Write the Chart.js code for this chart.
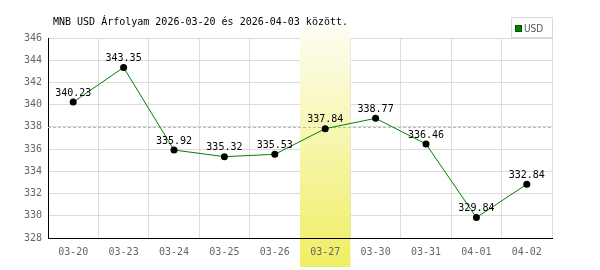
<!DOCTYPE html>
<html>
<head>
<meta charset="utf-8">
<script src="https://cdn.jsdelivr.net/npm/chart.js@4/dist/chart.umd.min.js"></script>
<style>
    html, body { margin: 0; padding: 0; background: #fff; }
    #box { width: 600px; height: 270px; }
</style>
</head>
<body>
<div id="box"><canvas id="chart_usd"></canvas></div>
<script>
// adatok
const datumok = ['03-20', '03-23', '03-24', '03-25', '03-26', '03-27', '03-30', '03-31', '04-01', '04-02'];
const arfolyamok = [340.23, 343.35, 335.92, 335.32, 335.53, 337.84, 338.77, 336.46, 329.84, 332.84];
const yTengely = [328, 346, 2]; // min, max, lepes
const referencia = [338];
const kiemeltNap = ['03-27'];
const cim = 'MNB USD Árfolyam 2026-03-20 és 2026-04-03 között.';
const jelmagyarazat = ['USD'];

// kiemelt oszlop + szaggatott vonal
const hatterPlugin = {
    id: 'hatter',
    beforeDatasetsDraw(chart) {
        const ctx = chart.ctx;
        const x = chart.scales.x;
        const y = chart.scales.y;
        const area = chart.chartArea;
        const lepes = x.getPixelForValue(1) - x.getPixelForValue(0);

        kiemeltNap.forEach(function (nap) {
            const kozep = x.getPixelForValue(datumok.indexOf(nap));
            const g = ctx.createLinearGradient(0, 27, 0, 267);
            g.addColorStop(0, '#fdfdf2');
            g.addColorStop(1, '#f0ee62');
            ctx.save();
            ctx.fillStyle = g;
            ctx.fillRect(kozep - lepes / 2, 27, lepes, 240);
            ctx.restore();
        });

        referencia.forEach(function (r) {
            const py = Math.round(y.getPixelForValue(r)) + 0.5;
            ctx.save();
            ctx.strokeStyle = '#a9c4a9';
            ctx.lineWidth = 1;
            ctx.setLineDash([3, 2]);
            ctx.beginPath();
            ctx.moveTo(area.left, py);
            ctx.lineTo(area.right, py);
            ctx.stroke();
            ctx.restore();
        });
    },
    afterDatasetsDraw(chart) {
        // ertekek a pontok folott
        const ctx = chart.ctx;
        const meta = chart.getDatasetMeta(0);
        ctx.save();
        ctx.font = '10px "DejaVu Sans Mono", monospace';
        ctx.fillStyle = '#000';
        ctx.textAlign = 'center';
        ctx.textBaseline = 'middle';
        meta.data.forEach(function (pont, i) {
            ctx.fillText(arfolyamok[i].toFixed(2), pont.x, pont.y - 9);
        });
        ctx.restore();
    },
    afterDraw(chart) {
        const ctx = chart.ctx;
        ctx.save();
        // cim
        ctx.font = '10px "DejaVu Sans Mono", monospace';
        ctx.fillStyle = '#000';
        ctx.textAlign = 'left';
        ctx.textBaseline = 'middle';
        ctx.fillText(cim, 53, 22);

        // jelmagyarazat
        ctx.fillStyle = '#fff';
        ctx.fillRect(511, 18, 41, 20);
        ctx.strokeStyle = '#d8d8d8';
        ctx.lineWidth = 1;
        ctx.strokeRect(511.5, 17.5, 41, 20);
        ctx.fillStyle = '#008000';
        ctx.fillRect(515, 25, 7, 7);
        ctx.strokeStyle = '#005500';
        ctx.strokeRect(515.5, 25.5, 6, 6);
        ctx.font = '10px "DejaVu Sans Condensed", "DejaVu Sans", sans-serif';
        ctx.fillStyle = '#555';
        ctx.fillText(jelmagyarazat[0], 524, 29);
        ctx.restore();
    }
};

const config_usd = {
    type: 'line',
    data: {
        labels: datumok,
        datasets: [{
            label: jelmagyarazat[0],
            data: arfolyamok,
            borderColor: '#008000',
            borderWidth: 1,
            backgroundColor: '#000',
            pointBackgroundColor: '#000',
            pointBorderWidth: 0,
            pointRadius: 3.5,
            tension: 0,
            fill: false
        }]
    },
    options: {
        responsive: false,
        animation: false,
        layout: { padding: { top: 38, right: 48, left: 0, bottom: 0 } },
        plugins: {
            legend: { display: false },
            title: { display: false },
            tooltip: { enabled: false }
        },
        scales: {
            x: {
                offset: true,
                grid: { offset: true, color: '#dcdcdc', drawTicks: false },
                border: { color: '#000', z: 1 },
                ticks: {
                    z: 1,
                    padding: 8,
                    color: '#666',
                    font: { family: '"DejaVu Sans Mono", monospace', size: 10 },
                    maxRotation: 0,
                    autoSkip: false
                },
                afterFit(scale) { scale.height = 32; }
            },
            y: {
                min: yTengely[0],
                max: yTengely[1],
                grid: { color: '#dcdcdc', drawTicks: false },
                border: { color: '#000' },
                ticks: {
                    stepSize: yTengely[2],
                    padding: 6,
                    color: '#666',
                    font: { family: '"DejaVu Sans Mono", monospace', size: 10 }
                },
                afterFit(scale) { scale.width = 48; }
            }
        }
    },
    plugins: [hatterPlugin]
};

const canvas = document.getElementById('chart_usd');
canvas.width = 600;
canvas.height = 270;
const chart_usd = new Chart(canvas, config_usd);
</script>
</body>
</html>
